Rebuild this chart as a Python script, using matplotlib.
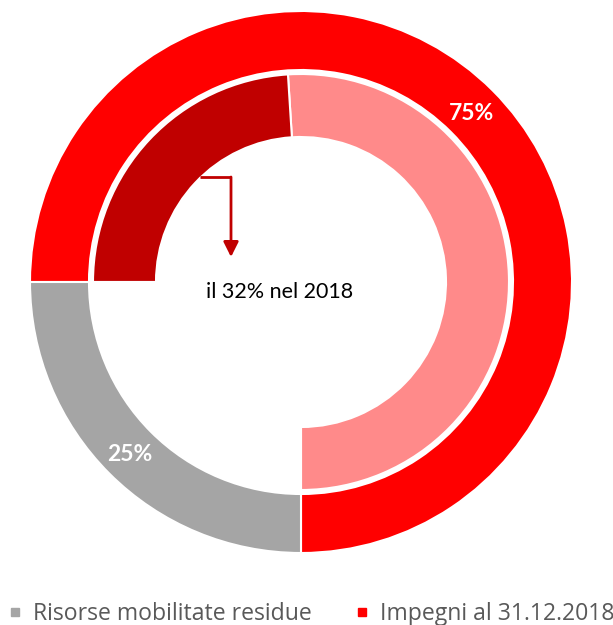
import matplotlib
matplotlib.use("Agg")
import matplotlib.pyplot as plt
from matplotlib.lines import Line2D
import numpy as np

# outer ring: share of total resources
outer_labels = ["Impegni al 31.12.2018", "Risorse mobilitate residue"]
outer_values = [75, 25]
outer_pct = ["75%", "25%"]

# inner ring: commitments split, the 2018 part is 32% of the 75%
inner_values = [51, 24, 25]

RED = "#FF0000"
GRAY = "#A5A5A5"
PINK = "#FF8A8A"
DARK_RED = "#C00000"

W, H = 613, 625
CX, CY, R = 301, 282, 271  # pie centre and radius in pixels


def px(x, y):
    # pixel position -> data coords (radius 1 = R pixels)
    return (x - CX) / R, (CY - y) / R


fig = plt.figure(figsize=(W / 100, H / 100), dpi=100)
ax = fig.add_axes([0, 0, 1, 1])

ax.pie(outer_values, radius=1.0, startangle=270, colors=[RED, GRAY],
       wedgeprops=dict(width=59 / R, edgecolor="white", linewidth=1.5))
ax.pie(inner_values, radius=208 / R, startangle=270, colors=[PINK, DARK_RED, "none"],
       wedgeprops=dict(width=63 / R, edgecolor="white", linewidth=1.5))

# percentage labels at the middle of the outer wedges
start = 270.0
for val, lab in zip(outer_values, outer_pct):
    mid = np.deg2rad(start + val * 3.6 / 2)
    rr = 241.5 / R
    ax.text(rr * np.cos(mid), rr * np.sin(mid) - 2 / R, lab, ha="center", va="center",
            color="white", fontsize=16.5, fontweight="bold", family="Lato")
    start += val * 3.6

# callout arrow from the dark red wedge
x0, y0 = px(200, 177)
x1, _ = px(231, 177)
_, y2 = px(231, 257)
ax.plot([x0, x1], [y0, y0], color=DARK_RED, lw=2, solid_capstyle="butt")
ax.annotate("", xy=(x1, y2), xytext=(x1, y0),
            arrowprops=dict(arrowstyle="-|>,head_length=0.9,head_width=0.45",
                            color=DARK_RED, lw=2, shrinkA=0, shrinkB=0))
tx, ty = px(280, 292)
ax.text(tx, ty, "il 32% nel 2018", ha="center", va="center", fontsize=15.5,
        color="black", family="Lato")

ax.set_xlim(-CX / R, (W - CX) / R)
ax.set_ylim(-(H - CY) / R, CY / R)
ax.set_aspect("auto")
ax.axis("off")

handles = [Line2D([], [], marker="s", linestyle="", color=GRAY, markersize=6),
           Line2D([], [], marker="s", linestyle="", color=RED, markersize=6)]
fig.legend(handles, [outer_labels[1], outer_labels[0]], loc="center left",
           bbox_to_anchor=(8.5 / W, 1 - 614 / H), ncol=2, frameon=False,
           prop={"family": "Open Sans", "size": 16.6}, labelcolor="#595959",
           handlelength=0.6, handletextpad=0.46, columnspacing=1.9,
           borderpad=0, borderaxespad=0)

fig.savefig("out.png", dpi=100)
